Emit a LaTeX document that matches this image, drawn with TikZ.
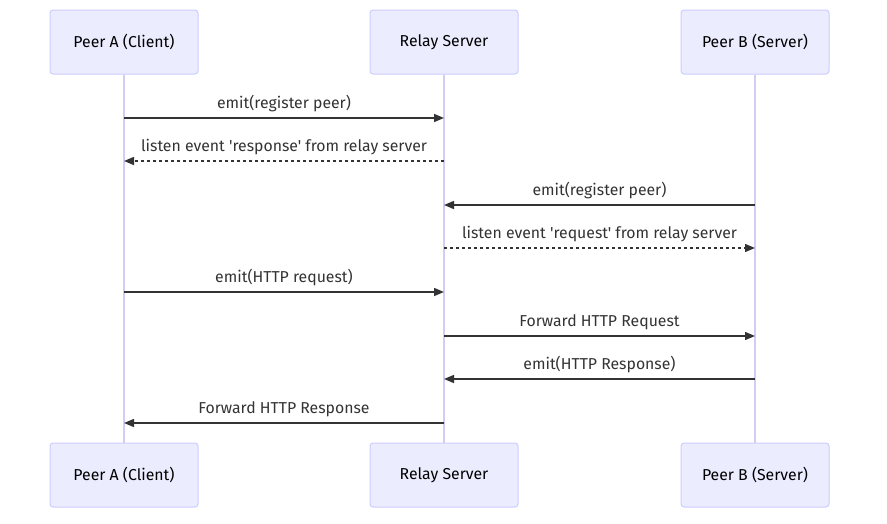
\documentclass[tikz,border=0pt]{standalone}
\usepackage{fontspec}
\setmainfont{Fira Sans}[Ligatures=TeXOff]
\usetikzlibrary{arrows.meta}
\definecolor{actfill}{HTML}{ECECFF}
\definecolor{actline}{HTML}{CCCCFF}
\definecolor{lifeln}{HTML}{D3CCF5}
\definecolor{msgc}{HTML}{333333}
\tikzset{
  actor/.style={draw=actline, fill=actfill, line width=1pt, rounded corners=3pt,
    minimum width=148pt, minimum height=64pt, inner sep=0pt,
    font=\fontsize{15.8}{18}\selectfont},
  life/.style={draw=lifeln, line width=1.5pt},
  msg/.style={draw=msgc, line width=1.5pt, -{Triangle[length=10pt,width=8pt]}},
  reply/.style={msg, dash pattern=on 3pt off 3pt},
  lbl/.style={font=\fontsize{15.8}{18}\selectfont, text=msgc, inner sep=0pt, anchor=base}
}
\begin{document}
\begin{tikzpicture}[x=1pt,y=-1pt]
\useasboundingbox (0,0) rectangle (887,523);
% actors
\node[actor] (a1) at (124,42) {Peer A (Client)};
\node[actor] (r1) at (444,42) {Relay Server};
\node[actor] (b1) at (755,42) {Peer B (Server)};
\node[actor] (a2) at (124,475) {Peer A (Client)};
\node[actor] (r2) at (444,475) {Relay Server};
\node[actor] (b2) at (755,475) {Peer B (Server)};
% lifelines
\draw[life] (a1.south) -- (a2.north);
\draw[life] (r1.south) -- (r2.north);
\draw[life] (b1.south) -- (b2.north);
% message anchor points
\foreach \n/\y in {1/118,2/161,3/205,4/248,5/292,6/336,7/379,8/423}{
  \coordinate (pa\n) at (124,\y);
  \coordinate (pr\n) at (444,\y);
  \coordinate (pb\n) at (755,\y);
}
\draw[msg] (pa1) -- (pr1) node[lbl, pos=0.5, yshift=10pt] (m1) {emit(register peer)};
\draw[reply] (pr2) -- (pa2) node[lbl, pos=0.5, yshift=10pt] (m2) {listen event 'response' from relay server};
\draw[msg] (pb3) -- (pr3) node[lbl, pos=0.5, yshift=10pt] (m3) {emit(register peer)};
\draw[reply] (pr4) -- (pb4) node[lbl, pos=0.5, yshift=10pt] (m4) {listen event 'request' from relay server};
\draw[msg] (pa5) -- (pr5) node[lbl, pos=0.5, yshift=10pt] (m5) {emit(HTTP request)};
\draw[msg] (pr6) -- (pb6) node[lbl, pos=0.5, yshift=10pt] (m6) {Forward HTTP Request};
\draw[msg] (pb7) -- (pr7) node[lbl, pos=0.5, yshift=10pt] (m7) {emit(HTTP Response)};
\draw[msg] (pr8) -- (pa8) node[lbl, pos=0.5, yshift=10pt] (m8) {Forward HTTP Response};
\end{tikzpicture}
\end{document}
